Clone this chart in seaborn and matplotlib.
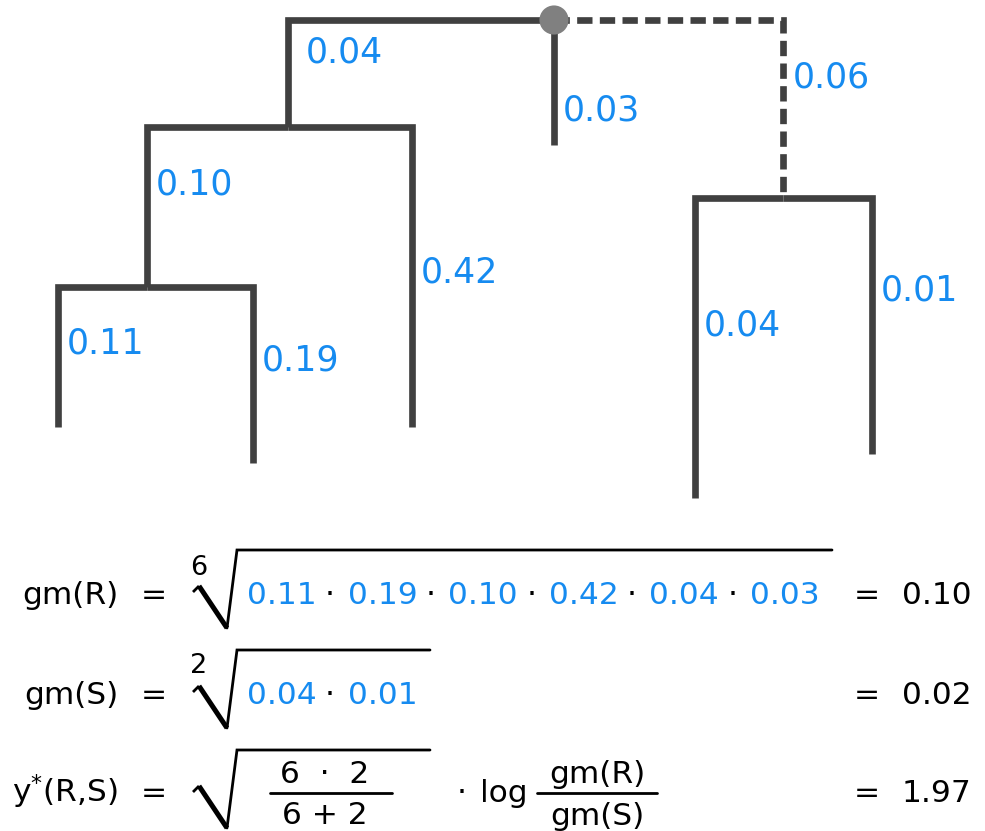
import pandas as pd
import matplotlib.pyplot as plt
import seaborn as sns

# branch lengths (clade R on the left, clade S on the right)
r_lengths = [0.11, 0.19, 0.10, 0.42, 0.04, 0.03]
s_lengths = [0.04, 0.01]
s_stem = 0.06
n_r, n_s = 6, 2
gm_r = 0.10
gm_s = 0.02
y_star = 1.97

# tree layout in pixel coordinates (not proportional to the lengths)
node_xy = {
    "root": (554, 20), "A": (288, 127), "B": (147, 287), "C": (783, 198),
    "r1": (58, 427), "r2": (253, 463), "r4": (412, 427), "r6": (554, 145),
    "s1": (695, 498), "s2": (872, 454),
}
# parent, child, value, label y, label x offset, dashed
edges = [
    ("B", "r1", r_lengths[0], 341, 9, False),
    ("B", "r2", r_lengths[1], 358, 9, False),
    ("A", "B", r_lengths[2], 182, 9, False),
    ("A", "r4", r_lengths[3], 270, 9, False),
    ("root", "A", r_lengths[4], 50, 18, False),
    ("root", "r6", r_lengths[5], 108, 9, False),
    ("root", "C", s_stem, 75, 10, True),
    ("C", "s1", s_lengths[0], 323, 9, False),
    ("C", "s2", s_lengths[1], 288, 9, False),
]

GREY = "#404040"
BLUE = "#168BF0"
DPI = 100

sns.set_theme(style="white")
plt.rcParams["font.family"] = ["DejaVu Sans"]

fig = plt.figure(figsize=(9.85, 8.31), dpi=DPI)
ax = fig.add_axes([0, 0, 1, 1])

# elbow paths parent -> (child x, parent y) -> child
rows = []
for i, (p, c, v, ly, lx, dashed) in enumerate(edges):
    px, py = node_xy[p]
    cx, cy = node_xy[c]
    for x, y in [(px, py), (cx, py), (cx, cy)]:
        rows.append({"x": x, "y": y, "branch": i, "kind": "dashed" if dashed else "solid"})
df = pd.DataFrame(rows)

sns.lineplot(data=df, x="x", y="y", units="branch", estimator=None, sort=False,
             style="kind", dashes={"solid": "", "dashed": (2.3, 1.1)},
             color=GREY, linewidth=4.8, legend=False, ax=ax,
             solid_joinstyle="miter", solid_capstyle="butt",
             dash_joinstyle="miter", dash_capstyle="butt")

root = pd.DataFrame({"x": [node_xy["root"][0]], "y": [node_xy["root"][1]]})
sns.scatterplot(data=root, x="x", y="y", s=440, color="#808080", edgecolor="none",
                zorder=5, ax=ax)


def put(x, y, s, size, color="black", ha="left"):
    # y is the centre of the cap height; place on the baseline
    ax.text(x, y + 0.3645 * size * DPI / 72, s, fontsize=size, color=color,
            ha=ha, va="baseline")


for p, c, v, ly, lx, dashed in edges:
    put(node_xy[c][0] + lx, ly, f"{v:.2f}", 25, BLUE)

FS = 22.5


def radical(y_bot, y_top, x_end):
    ax.plot([193, 199], [y_bot - 36, y_bot - 42], color="black", lw=2.0,
            solid_capstyle="butt")
    ax.plot([199, 227], [y_bot - 42, y_bot], color="black", lw=3.6,
            solid_capstyle="butt")
    ax.plot([227, 237, x_end], [y_bot, y_top, y_top], color="black", lw=2.0,
            solid_joinstyle="miter")


# gm(R)
put(118, 593, "gm(R)", FS, ha="right")
put(154, 593, "=", FS, ha="center")
put(199, 565, str(n_r), 19.5, ha="center")
radical(628, 550, 832)
for i, v in enumerate(r_lengths):
    put(247 + i * 100.6, 593, f"{v:.2f}", FS, BLUE)
    if i < len(r_lengths) - 1:
        put(330 + i * 100.6, 593, "·", FS, ha="center")
put(867, 593, "=", FS, ha="center")
put(902, 593, f"{gm_r:.2f}", FS)

# gm(S)
put(118, 693, "gm(S)", FS, ha="right")
put(154, 693, "=", FS, ha="center")
put(199, 663, str(n_s), 19.5, ha="center")
radical(728, 650, 430)
for i, v in enumerate(s_lengths):
    put(247 + i * 100.6, 693, f"{v:.2f}", FS, BLUE)
    if i < len(s_lengths) - 1:
        put(330 + i * 100.6, 693, "·", FS, ha="center")
put(867, 693, "=", FS, ha="center")
put(902, 693, f"{gm_s:.2f}", FS)

# y*(R,S)
put(118, 791, r"$\mathregular{y^{*}(R{,}S)}$", FS, ha="right")
put(154, 791, "=", FS, ha="center")
radical(828, 750, 430)
put(325, 772, f"{n_r}  ·  {n_s}", FS, ha="center")
ax.plot([270, 392], [793, 793], color="black", lw=2.0)
put(325, 813, f"{n_r} + {n_s}", FS, ha="center")
put(462, 791, "·", FS, ha="center")
put(480, 791, "log", FS)
put(597, 772, "gm(R)", FS, ha="center")
ax.plot([537, 657], [793, 793], color="black", lw=2.0)
put(597, 814, "gm(S)", FS, ha="center")
put(867, 791, "=", FS, ha="center")
put(902, 791, f"{y_star:.2f}", FS)

ax.set_xlim(0, 985)
ax.set_ylim(831, 0)
ax.axis("off")

fig.savefig("out.png", dpi=DPI)
